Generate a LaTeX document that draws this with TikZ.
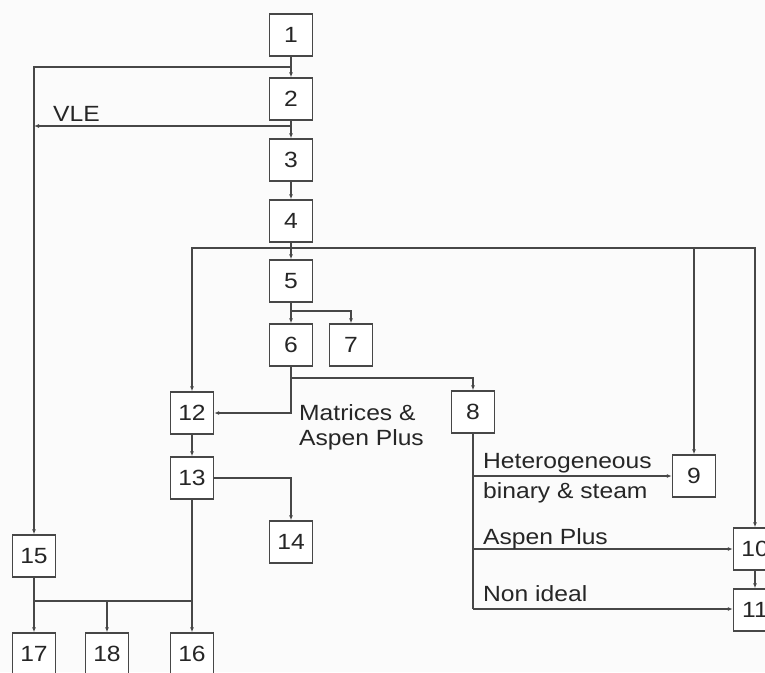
\documentclass[tikz,border=0pt]{standalone}
\usepackage{fontspec}
\setmainfont{Liberation Sans}[FakeStretch=1.12]
\usetikzlibrary{arrows.meta}

\definecolor{inkgray}{HTML}{474747}
\definecolor{paper}{HTML}{FBFBFB}

\begin{document}
\begin{tikzpicture}[
  x=1pt, y=-1pt,
  font=\fontsize{22}{25}\selectfont,
  box/.style={draw=inkgray, line width=1.4pt, fill=white, minimum width=43pt,
    minimum height=42pt, inner sep=0pt, text=black!85},
  wire/.style={draw=inkgray, line width=1.2pt},
  arr/.style={wire, -{Latex[length=5pt, width=4pt]}},
  lbl/.style={inner sep=0pt, text=black!85, align=left},
]

\fill[paper] (0,0) rectangle (765,672);
\useasboundingbox (0,0) rectangle (765,672);

% --- main column ---
\node[box] (n1) at (291,35)  {1};
\node[box] (n2) at (291,99)  {2};
\node[box] (n3) at (291,160) {3};
\node[box] (n4) at (291,221) {4};
\node[box] (n5) at (291,281) {5};
\node[box] (n6) at (291,345) {6};
\node[box] (n7) at (351,345) {7};
\node[box] (n8) at (473,412) {8};

% --- right side (10, 11 run off the edge) ---
\node[box] (n9)  at (694,476) {9};
\node[box] (n10) at (755,549) {10};
\node[box] (n11) at (755,610) {11};

% --- left side ---
\node[box] (n12) at (192,413) {12};
\node[box] (n13) at (192,478) {13};
\node[box] (n14) at (291,542) {14};
\node[box] (n15) at (34,556)  {15};
\node[box] (n17) at (34,654)  {17};
\node[box] (n18) at (107,654) {18};
\node[box] (n16) at (192,654) {16};

% junction points on the wires
\coordinate (j1) at (291,67);
\coordinate (j2) at (291,126);
\coordinate (j4) at (291,248);
\coordinate (j5) at (291,311);
\coordinate (j6) at (291,378);
\coordinate (j8) at (473,609);
\coordinate (j15) at (34,601);

% --- 1 to 4 ---
\draw[arr] (n1) -- (n2);
\draw[arr] (j1) -| (n15);
\draw[arr] (n2) -- (n3);
\draw[arr] (j2) -- (j2 -| n15);
\draw[arr] (n3) -- (n4);

% --- bus under 4 ---
\draw[wire] (n4) -- (j4);
\draw[arr] (j4) -- (n5);
\draw[arr] (j4) -| (n12);
\draw[arr] (j4) -| (n9);
\draw[arr] (j4) -| (n10);

% --- 5, 6 ---
\draw[arr] (n5) -- (n6);
\draw[arr] (j5) -| (n7);
\draw[arr] (n6.south) |- (n12);
\draw[arr] (j6) -| (n8);

% --- 8 fan out ---
\draw[wire] (n8) -- (j8);
\draw[arr] (j8 |- n9) -- (n9);
\draw[arr] (j8 |- n10) -- (n10);
\draw[arr] (j8) -- (j8 -| n11.west);
\draw[arr] (n10) -- (n11);

% --- 12 to 18 ---
\draw[arr] (n12) -- (n13);
\draw[arr] (n13) -| (n14);
\draw[arr] (n13) -- (n16);
\draw[wire] (n15) -- (j15) -- (j15 -| n16);
\draw[arr] (j15) -- (n17);
\draw[arr] (j15 -| n18) -- (n18);

% --- labels ---
\node[lbl, anchor=base west] (vle) at (53,121) {VLE};
\node[lbl, anchor=base west] (mat) at (299,445) {Matrices \&\\Aspen Plus};
\node[lbl, anchor=base west] (het) at (483,468) {Heterogeneous};
\node[lbl, anchor=base west] (bin) at (483,498) {binary \& steam};
\node[lbl, anchor=base west] (asp) at (483,544) {Aspen Plus};
\node[lbl, anchor=base west] (non) at (483,601) {Non ideal};

\end{tikzpicture}
\end{document}
